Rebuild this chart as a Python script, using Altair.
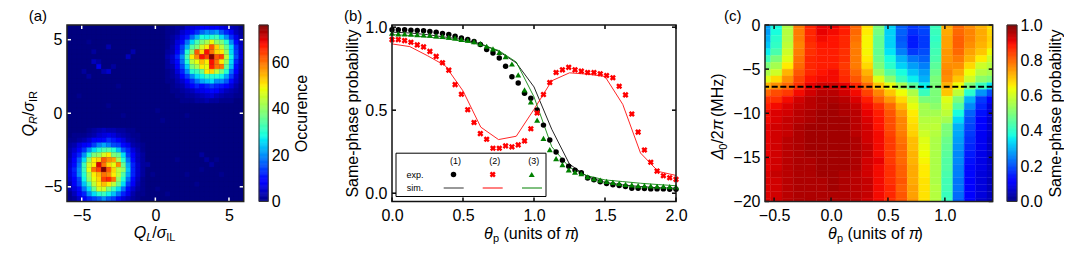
import altair as alt
import pandas as pd

FONT = "Liberation Sans"

# ---------- panel (a): occurrence histogram, 36 x 36 bins ----------
A_BINS = 36
A_MAX = 76
# rows 0..15, columns 20..35
cluster_top_right = [
    [1, 1, 2, 2, 5, 6, 7, 9, 9, 8, 9, 7, 6, 4, 3, 1],
    [1, 1, 2, 5, 7, 10, 13, 17, 20, 19, 21, 16, 12, 8, 4, 2],
    [1, 2, 4, 7, 11, 17, 23, 29, 28, 30, 32, 26, 20, 13, 7, 3],
    [1, 2, 6, 10, 18, 26, 33, 38, 42, 48, 40, 38, 30, 20, 10, 4],
    [1, 3, 7, 14, 23, 34, 38, 46, 50, 62, 52, 44, 36, 26, 13, 5],
    [2, 3, 8, 15, 30, 40, 62, 52, 68, 60, 52, 50, 40, 26, 14, 6],
    [3, 5, 12, 20, 33, 50, 58, 68, 64, 76, 62, 64, 44, 28, 15, 6],
    [2, 5, 10, 18, 30, 44, 48, 54, 50, 68, 60, 50, 40, 26, 12, 5],
    [2, 3, 8, 15, 25, 38, 42, 50, 48, 67, 60, 60, 36, 24, 10, 4],
    [1, 2, 6, 12, 20, 30, 32, 36, 50, 52, 44, 38, 30, 18, 9, 3],
    [1, 2, 4, 9, 14, 20, 26, 28, 32, 30, 30, 28, 22, 14, 6, 2],
    [1, 1, 3, 5, 9, 13, 18, 22, 24, 26, 20, 20, 16, 10, 5, 2],
    [0, 1, 2, 3, 6, 9, 12, 10, 12, 14, 12, 11, 9, 6, 3, 1],
    [0, 1, 1, 2, 3, 4, 6, 7, 8, 10, 9, 6, 4, 3, 2, 1],
    [0, 0, 1, 1, 2, 2, 3, 4, 5, 6, 4, 3, 2, 2, 1, 1],
    [0, 0, 0, 1, 1, 1, 2, 2, 3, 2, 2, 1, 1, 1, 0, 0],
]
# rows 21..35, columns 0..15
cluster_bottom_left = [
    [0, 0, 0, 0, 1, 2, 3, 4, 3, 3, 2, 2, 1, 1, 0, 0],
    [0, 1, 1, 1, 2, 3, 5, 6, 7, 6, 4, 3, 2, 1, 0, 0],
    [1, 1, 2, 3, 5, 8, 9, 10, 13, 11, 8, 6, 3, 2, 1, 0],
    [2, 3, 6, 8, 10, 14, 19, 22, 19, 15, 14, 10, 7, 3, 2, 1],
    [3, 5, 8, 13, 20, 26, 30, 33, 34, 30, 24, 16, 12, 6, 3, 1],
    [3, 7, 12, 20, 30, 38, 40, 46, 50, 38, 36, 26, 14, 8, 4, 2],
    [4, 9, 16, 26, 40, 50, 52, 62, 58, 56, 42, 30, 18, 10, 4, 2],
    [5, 10, 18, 32, 46, 50, 70, 60, 52, 48, 58, 36, 22, 12, 5, 2],
    [6, 12, 20, 32, 48, 60, 64, 76, 62, 52, 44, 40, 24, 12, 5, 2],
    [6, 11, 20, 30, 42, 50, 54, 60, 58, 50, 44, 34, 22, 12, 5, 2],
    [5, 9, 15, 28, 40, 48, 52, 64, 66, 60, 40, 30, 18, 10, 4, 1],
    [3, 8, 14, 24, 32, 44, 50, 54, 50, 44, 36, 26, 14, 8, 3, 1],
    [3, 6, 10, 18, 26, 36, 46, 46, 38, 32, 26, 18, 10, 5, 2, 1],
    [1, 4, 8, 12, 20, 26, 30, 32, 28, 24, 18, 12, 7, 3, 1, 1],
    [1, 2, 5, 8, 12, 14, 16, 20, 16, 14, 10, 6, 4, 2, 1, 0],
]
# (column, row, count) faint background cells
faint_cells = [
    (6, 8, 7), (8, 9, 5), (5, 7, 4), (7, 9, 3), (8, 4, 3), (13, 5, 3), (12, 6, 4), (5, 5, 2),
    (6, 7, 2), (4, 10, 2), (3, 9, 2), (9, 8, 2), (4, 3, 1), (10, 12, 1), (2, 14, 1),
    (27, 26, 2), (28, 27, 2), (29, 28, 2), (30, 27, 1), (27, 29, 1), (26, 32, 1), (31, 30, 1),
    (24, 30, 1), (16, 28, 2), (17, 30, 1), (18, 33, 1), (22, 27, 1), (20, 34, 1), (14, 22, 1),
    (18, 17, 1), (19, 19, 1), (11, 18, 1), (24, 18, 1), (8, 16, 1),
]

grid = [[0 for _ in range(A_BINS)] for _ in range(A_BINS)]
for r, row in enumerate(cluster_top_right):
    for i, v in enumerate(row):
        grid[r][20 + i] = v
for r, row in enumerate(cluster_bottom_left):
    for i, v in enumerate(row):
        grid[21 + r][i] = v
for c, r, v in faint_cells:
    grid[r][c] = max(grid[r][c], v)
a_df = pd.DataFrame([
    {"x0": -6 + c / 3, "x1": -6 + (c + 1) / 3, "y0": 6 - r / 3, "y1": 6 - (r + 1) / 3, "v": grid[r][c]}
    for r in range(A_BINS) for c in range(A_BINS)
])

# ---------- panel (b) ----------
b_exp_theta = [k * 2 / 45 for k in range(46)]
exp_black = [.984, .984, .984, .982, .98, .978, .974, .97, .962, .956, .945, .935, .925, .913, .895,
             .865, .844, .814, .764, .701, .663, .602, .572, .501, .41, .321, .248, .198, .162, .139,
             .123, .091, .081, .069, .059, .051, .046, .04, .03, .03, .028, .026, .026, .026, .024, .024]
exp_red = [.925, .925, .919, .909, .893, .881, .854, .824, .786, .741, .654, .596, .503, .426, .359,
           .325, .271, .271, .285, .279, .291, .315, .388, .483, .594, .667, .727, .743, .758, .743,
           .735, .727, .727, .719, .709, .695, .644, .592, .477, .368, .26, .186, .133, .105, .093, .083]
exp_green = [.964, .96, .96, .958, .955, .954, .952, .948, .945, .94, .935, .927, .921, .913, .901,
             .885, .869, .848, .822, .778, .713, .622, .55, .44, .33, .263, .208, .172, .141, .127,
             .117, .099, .087, .079, .071, .065, .059, .053, .05, .046, .046, .044, .042, .042, .04, .038]
sim_theta = [0, .125, .25, .375, .5, .625, .75, .875, 1.0, 1.125, 1.25, 1.375, 1.5, 1.625, 1.75, 1.875, 2.0]
sim_black = [.97, .965, .955, .94, .925, .9, .855, .785, .64, .385, .175, .1, .065, .05, .04, .033, .03]
sim_red = [.899, .883, .828, .768, .616, .398, .323, .343, .505, .677, .725, .717, .703, .535, .242, .131, .107]
sim_green = [.955, .95, .94, .93, .915, .895, .86, .79, .58, .28, .155, .105, .08, .07, .06, .052, .045]

C_BLACK, C_RED, C_GREEN = "#000000", "#ff0000", "#008000"
exp_df = pd.DataFrame({"t": b_exp_theta, "black": exp_black, "red": exp_red, "green": exp_green})
sim_df = pd.DataFrame({"t": sim_theta, "black": sim_black, "red": sim_red, "green": sim_green})

# ---------- panel (c): 21 columns (half-width at both ends), 27 rows (half-height at both ends) ----------
c_edges_theta = [-.58, -.53, -.43, -.33, -.23, -.13, -.03, .07, .17, .27, .37, .47, .57, .67, .77, .87, .97, 1.07, 1.17, 1.27, 1.37, 1.42]
c_rows = [
    [.28, .38, .56, .78, .87, .91, .91, .88, .80, .67, .50, .33, .22, .18, .20, .42, .73, .80, .76, .72, .68],
    [.28, .38, .57, .78, .87, .91, .90, .88, .80, .66, .49, .33, .22, .17, .19, .42, .73, .80, .77, .73, .68],
    [.30, .40, .57, .78, .87, .90, .89, .87, .79, .65, .47, .33, .21, .15, .18, .41, .74, .81, .77, .73, .69],
    [.32, .41, .58, .77, .86, .89, .89, .87, .78, .65, .47, .33, .22, .15, .18, .42, .74, .81, .76, .72, .68],
    [.36, .44, .60, .78, .86, .88, .88, .86, .78, .65, .47, .35, .25, .18, .20, .43, .75, .80, .74, .70, .64],
    [.42, .50, .62, .79, .87, .88, .88, .86, .78, .66, .48, .38, .30, .24, .22, .44, .75, .78, .72, .66, .60],
    [.50, .55, .66, .80, .87, .88, .88, .85, .78, .68, .50, .40, .33, .28, .25, .46, .76, .76, .68, .60, .57],
    [.56, .60, .72, .82, .87, .89, .90, .86, .80, .72, .54, .45, .38, .32, .28, .48, .77, .73, .64, .57, .55],
    [.62, .68, .76, .84, .89, .90, .90, .87, .82, .75, .62, .52, .42, .36, .30, .50, .76, .70, .60, .52, .50],
    [.72, .76, .80, .86, .91, .93, .93, .91, .87, .80, .70, .63, .55, .46, .36, .50, .72, .64, .50, .42, .35],
    [.80, .83, .85, .90, .93, .95, .95, .93, .90, .84, .77, .70, .64, .56, .42, .50, .70, .58, .40, .27, .20],
    [.86, .86, .90, .93, .95, .96, .96, .95, .92, .88, .81, .75, .68, .60, .50, .50, .62, .50, .30, .18, .11],
    [.88, .90, .92, .94, .95, .96, .97, .96, .94, .90, .86, .80, .72, .63, .55, .52, .60, .45, .26, .16, .08],
    [.90, .92, .93, .95, .96, .97, .97, .96, .95, .91, .88, .82, .75, .66, .55, .55, .58, .38, .22, .14, .08],
    [.90, .92, .94, .95, .96, .97, .97, .97, .95, .92, .89, .83, .77, .67, .57, .57, .55, .34, .20, .12, .07],
    [.91, .93, .94, .96, .97, .97, .97, .97, .95, .93, .89, .83, .77, .68, .58, .58, .50, .30, .19, .11, .07],
    [.91, .93, .94, .96, .97, .97, .97, .97, .95, .93, .90, .84, .78, .69, .60, .57, .50, .29, .18, .10, .07],
    [.91, .93, .95, .96, .97, .97, .97, .97, .96, .93, .90, .85, .79, .71, .62, .56, .48, .28, .17, .10, .06],
    [.91, .93, .95, .96, .97, .97, .97, .97, .96, .94, .90, .85, .80, .71, .63, .56, .47, .27, .16, .10, .06],
    [.91, .93, .95, .96, .97, .97, .97, .97, .96, .94, .90, .85, .80, .72, .64, .56, .46, .26, .15, .09, .06],
    [.91, .93, .95, .96, .96, .97, .97, .97, .96, .93, .91, .85, .80, .72, .65, .56, .45, .26, .14, .09, .06],
    [.91, .93, .95, .96, .96, .97, .97, .97, .96, .93, .90, .86, .81, .73, .66, .56, .45, .25, .13, .09, .06],
    [.92, .94, .95, .96, .96, .97, .97, .96, .95, .93, .90, .86, .81, .73, .66, .56, .44, .25, .13, .08, .06],
    [.92, .93, .95, .96, .96, .96, .97, .96, .95, .94, .90, .86, .82, .73, .67, .56, .43, .24, .12, .08, .05],
    [.92, .93, .95, .96, .96, .96, .97, .96, .95, .94, .90, .87, .81, .74, .67, .57, .43, .24, .12, .08, .05],
    [.92, .93, .95, .96, .96, .96, .96, .96, .95, .94, .90, .87, .82, .74, .67, .57, .42, .23, .11, .08, .05],
    [.92, .93, .95, .96, .96, .96, .96, .96, .95, .93, .90, .86, .82, .75, .67, .57, .42, .22, .11, .07, .05],
]
c_step = 20 / 26
c_edges_delta = [0.0] + [-(k + .5) * c_step for k in range(26)] + [-20.0]
c_df = pd.DataFrame([
    {"x0": c_edges_theta[i], "x1": c_edges_theta[i + 1], "y0": c_edges_delta[k], "y1": c_edges_delta[k + 1], "v": row[i]}
    for k, row in enumerate(c_rows) for i in range(21)
])

# ---------- shared styling ----------
JET_STOPS = [0, .11, .125, .35, .375, .64, .66, .89, .91, 1]
JET_COLORS = ["#00007f", "#0000ff", "#0000ff", "#00e5f7", "#14ffe2", "#eeff04", "#ffec00", "#ff1300", "#e80000", "#7f0000"]


def jet(vmax):
    return alt.Scale(domain=[s * vmax for s in JET_STOPS], range=JET_COLORS, interpolate="rgb")


def linear(lo, hi):
    return alt.Scale(domain=[lo, hi], nice=False, zero=False, padding=0)


FS = 16
SUB = 11
TAG = 15
CHAR_W = {"Q": .778, "L": .556, "R": .722, "/": .278, "σ": .6, "I": .278, "Δ": .612, "0": .556, "2": .556,
          "π": .55, "θ": .556, "p": .556, " ": .278, "(": .333, ")": .333, "u": .556, "n": .556, "i": .222,
          "t": .278, "s": .5, "o": .556, "f": .278, "M": .833, "H": .722, "z": .5}


def text_w(s, size):
    return sum(CHAR_W.get(ch, .5) for ch in s) * size


def label(s, x, y, size=FS, italic=False, angle=0, align="left", baseline="alphabetic"):
    kw = {"fontStyle": "italic"} if italic else {}
    return alt.Chart(pd.DataFrame({"t": [s]})).mark_text(
        font=FONT, fontSize=size, angle=angle, align=align, baseline=baseline, color="black", **kw
    ).encode(x=alt.value(x), y=alt.value(y), text="t:N")


def runs(parts, x, y, vertical=False):
    """parts: (text, italic, subscript). x,y is the baseline start."""
    out = []
    for s, it, sub in parts:
        size = SUB if sub else FS
        lead = text_w(s[:len(s) - len(s.lstrip())], size)
        if vertical:
            y -= lead
            out.append(label(s.strip(), x + (3.5 if sub else 0), y, size, it, angle=270))
            y -= text_w(s.lstrip(), size)
        else:
            x += lead
            out.append(label(s.strip(), x, y + (3.5 if sub else 0), size, it))
            x += text_w(s.lstrip(), size)
    return out


def axis(orient, fmt, values, padding):
    return alt.Axis(title=None, orient=orient, domain=False, ticks=False, grid=False, labelFont=FONT,
                    labelFontSize=FS, labelColor="black", labelPadding=padding, format=fmt, values=values,
                    labelFlush=False, labelOverlap=False)


def inward_ticks(xvals, yvals, xenc, yenc, w, h, color, length=4, width=1.5):
    layers = []
    xd = pd.DataFrame({"v": xvals})
    yd = pd.DataFrame({"v": yvals})
    for a, b in ((0, length), (h - length, h)):
        layers.append(alt.Chart(xd).mark_rule(color=color, strokeWidth=width).encode(
            x=alt.X("v:Q", **xenc), y=alt.value(a), y2=alt.value(b)))
    for a, b in ((0, length), (w - length, w)):
        layers.append(alt.Chart(yd).mark_rule(color=color, strokeWidth=width).encode(
            y=alt.Y("v:Q", **yenc), x=alt.value(a), x2=alt.value(b)))
    return layers


def frame(w, h, color="#222222", width=1.5):
    return alt.Chart(pd.DataFrame({"k": [0]})).mark_rect(fill=None, stroke=color, strokeWidth=width, clip=False).encode(
        x=alt.value(0), x2=alt.value(w), y=alt.value(0), y2=alt.value(h))


def backdrop(w, h, color):
    return alt.Chart(pd.DataFrame({"k": [0]})).mark_rect(fill=color).encode(
        x=alt.value(0), x2=alt.value(w), y=alt.value(0), y2=alt.value(h))


def spacer(w, h):
    return alt.Chart(pd.DataFrame({"k": [0]})).mark_rect(opacity=0).encode(
        x=alt.value(0), x2=alt.value(1), y=alt.value(0), y2=alt.value(1)).properties(width=w, height=h)


def heat(df, xenc, yenc, vmax, seam=.35):
    return alt.Chart(df).mark_rect(strokeWidth=seam).encode(
        x=alt.X("x0:Q", **xenc), x2="x1:Q",
        y=alt.Y("y0:Q", **yenc), y2="y1:Q",
        color=alt.Color("v:Q", scale=jet(vmax), legend=None),
        stroke=alt.Stroke("v:Q", scale=jet(vmax), legend=None),
    )


def colorbar(vmax, ticks, fmt, w, h, step):
    levels = [i * step for i in range(int(round(vmax / step)))]
    df = pd.DataFrame({"v0": levels, "v1": [v + step for v in levels]})
    df["v"] = df["v0"] + step / 2
    yenc = dict(scale=linear(0, vmax), axis=axis("right", fmt, ticks, 3))
    rect = alt.Chart(df).mark_rect(strokeWidth=.6).encode(
        y=alt.Y("v0:Q", **yenc), y2="v1:Q",
        color=alt.Color("v:Q", scale=jet(vmax), legend=None),
        stroke=alt.Stroke("v:Q", scale=jet(vmax), legend=None),
        x=alt.value(0), x2=alt.value(w),
    )
    return [rect, frame(w, h, "#333333", 1)]


OY = 24.5
H = 176.5
BASE = 20     # page y of the (a)/(b)/(c) baselines

# ---------- panel (a) chart ----------
AX, AW = 68.3, 176.7
a_x = dict(scale=linear(-6, 6), axis=axis("bottom", "d", [-5, 0, 5], 6))
a_y = dict(scale=linear(-6, 6), axis=axis("left", "d", [-5, 0, 5], 5))
a_layers = [backdrop(AW, H, "#00007f"), heat(a_df, a_x, a_y, A_MAX, seam=.25)]
a_layers += inward_ticks([-5, 0, 5], [-5, 0, 5], a_x, a_y, AW, H, "white")
a_layers.append(frame(AW, H))
a_layers.append(label("(a)", 30 - AX, BASE - OY, TAG))
a_layers += runs([("Q", True, False), ("L", True, True), ("/", False, False), ("σ", True, False), ("IL", False, True)],
                 135 - AX, 237 - OY)
a_layers += runs([("Q", True, False), ("R", True, True), ("/", False, False), ("σ", True, False), ("IR", False, True)],
                 35 - AX, 136 - OY, vertical=True)
panel_a = alt.layer(*a_layers).properties(width=AW, height=H)

# colorbar (a)
CA_X, CA_W = 259.3, 9.2
cb_a = alt.layer(*colorbar(A_MAX, [0, 20, 40, 60], "d", CA_W, H, 0.5),
                 label("Occurence", 307 - CA_X, 113 - OY, angle=270, align="center")).properties(width=CA_W, height=H)

# ---------- panel (b) chart ----------
BX, BW = 391.0, 284.0
b_x = dict(scale=linear(0, 2), axis=axis("bottom", ".1f", [0, .5, 1, 1.5, 2], 6))
b_y = dict(scale=linear(-.05, 1.013), axis=axis("left", ".1f", [0, .5, 1], 5))
b_layers = []
for col, c in (("black", C_BLACK), ("red", C_RED), ("green", C_GREEN)):
    b_layers.append(alt.Chart(sim_df).mark_line(color=c, strokeWidth=1, clip=True, opacity=.85).encode(
        x=alt.X("t:Q", **b_x), y=alt.Y(col + ":Q", **b_y)))
MARK = {"black": dict(shape="circle", size=30), "red": dict(shape="cross", size=38, angle=45),
        "green": dict(shape="triangle-up", size=36)}
for col, c in (("black", C_BLACK), ("red", C_RED), ("green", C_GREEN)):
    b_layers.append(alt.Chart(exp_df).mark_point(filled=True, opacity=1, color=c, **MARK[col]).encode(
        x=alt.X("t:Q", **b_x), y=alt.Y(col + ":Q", **b_y)))
b_layers += inward_ticks([0, .5, 1, 1.5, 2], [0, .5, 1], b_x, b_y, BW, H, "black")
b_layers.append(frame(BW, H, "#111111"))
# key box
b_layers.append(alt.Chart(pd.DataFrame({"k": [0]})).mark_rect(fill="white", stroke="black", strokeWidth=1).encode(
    x=alt.value(395 - BX), x2=alt.value(545 - BX), y=alt.value(152.7 - OY), y2=alt.value(196 - OY)))
KEY_SIZE = 9
b_layers.append(label("exp.", 414 - BX, 174 - OY, KEY_SIZE, align="center", baseline="middle"))
b_layers.append(label("sim.", 414 - BX, 187.5 - OY, KEY_SIZE, align="center", baseline="middle"))
for head, mx, lx, col, c in (("(1)", 452.5, 442.7, "black", "#333333"), ("(2)", 491.7, 481.7, "red", C_RED),
                             ("(3)", 530.7, 521, "green", C_GREEN)):
    b_layers.append(label(head, mx + 2 - BX, 160.7 - OY, KEY_SIZE, align="center", baseline="middle"))
    b_layers.append(alt.Chart(pd.DataFrame({"k": [0]})).mark_point(filled=True, opacity=1, color=c if col != "black" else "black",
                                                                    **MARK[col]).encode(
        x=alt.value(mx - BX), y=alt.value(174 - OY)))
    b_layers.append(alt.Chart(pd.DataFrame({"k": [0]})).mark_rule(color=c, strokeWidth=1).encode(
        x=alt.value(lx - BX), x2=alt.value(lx + 20 - BX), y=alt.value(187.5 - OY)))
b_layers.append(label("(b)", 343 - BX, BASE - OY, TAG))
b_layers.append(label("Same-phase probability", 357 - BX, 113 - OY, angle=270, align="center"))
b_layers += runs([("θ", True, False), ("p", False, True), (" (units of ", False, False), ("π", True, False), (")", False, False)],
                 483 - BX, 238 - OY)
panel_b = alt.layer(*b_layers).properties(width=BW, height=H)

# ---------- panel (c) chart ----------
CX, CW = 764.0, 227.7
c_x = dict(scale=linear(-.58, 1.42), axis=axis("bottom", ".1f", [-.5, 0, .5, 1], 6))
c_y = dict(scale=linear(-20, 0), axis=axis("left", "d", [0, -5, -10, -15, -20], 5))
c_layers = [heat(c_df, c_x, c_y, 1.0)]
c_layers.append(alt.Chart(pd.DataFrame({"d": [-7.0]})).mark_rule(color="black", strokeWidth=2, strokeDash=[6, 2.6]).encode(
    y=alt.Y("d:Q", **c_y)))
c_layers += inward_ticks([-.5, 0, .5, 1], [0, -5, -10, -15, -20], c_x, c_y, CW, H, "#111111")
c_layers.append(frame(CW, H))
c_layers.append(label("(c)", 723 - CX, BASE - OY, TAG))
c_layers += runs([("Δ", True, False), ("0", False, True), ("/2", False, False), ("π", True, False), (" (MHz)", False, False)],
                 722 - CX, 159 - OY, vertical=True)
c_layers += runs([("θ", True, False), ("p", False, True), (" (units of ", False, False), ("π", True, False), (")", False, False)],
                 827 - CX, 238 - OY)
panel_c = alt.layer(*c_layers).properties(width=CW, height=H)

# colorbar (c)
CC_X, CC_W = 1005.0, 10.0
cb_c = alt.layer(*colorbar(1.0, [0, .2, .4, .6, .8, 1.0], ".1f", CC_W, H, 0.005),
                 label("Same-phase probability", 1059 - CC_X, 113 - OY, angle=270, align="center")).properties(width=CC_W, height=H)

chart = alt.hconcat(
    panel_a, spacer(CA_X - AX - AW, H), cb_a, spacer(BX - CA_X - CA_W, H), panel_b,
    spacer(CX - BX - BW, H), panel_c, spacer(CC_X - CX - CW, H), cb_c,
    spacing=0, bounds="flush",
).resolve_scale(color="independent", stroke="independent", x="independent", y="independent").configure_view(stroke=None).properties(
    padding={"left": 12, "top": 0, "right": 0, "bottom": 0}, background="white")

chart.save("out.html", embed_options={"renderer": "svg", "actions": False})
